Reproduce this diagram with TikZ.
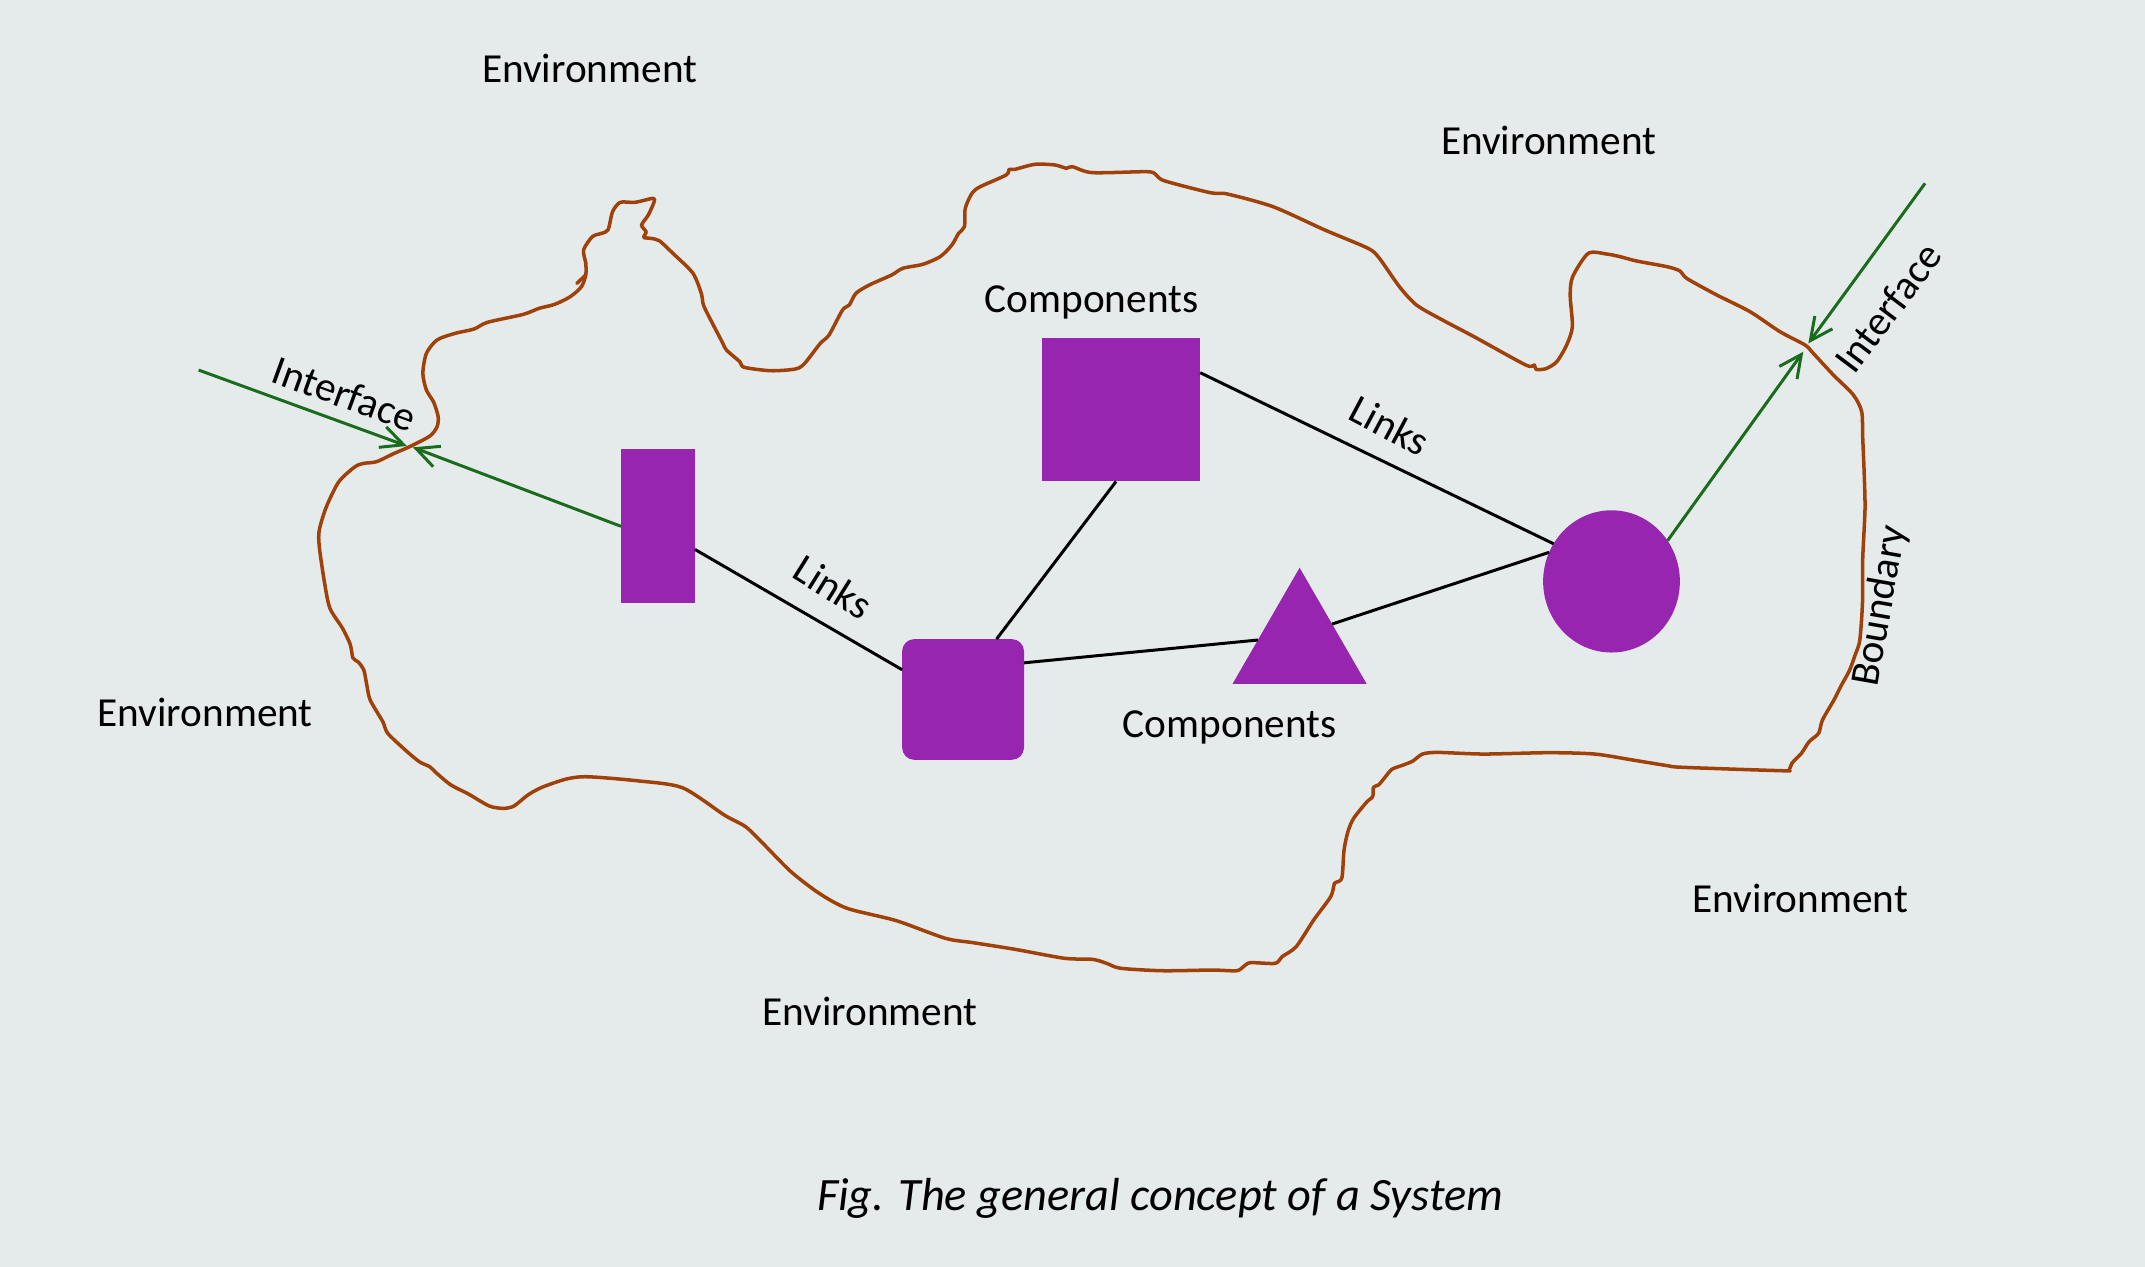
\documentclass[tikz,border=0pt]{standalone}
\usepackage{fontspec}
\setmainfont{Carlito}
\usetikzlibrary{arrows.meta,shapes.geometric}
\definecolor{bgc}{RGB}{228,235,234}
\definecolor{compc}{RGB}{152,37,176}
\definecolor{brownc}{RGB}{160,65,10}
\definecolor{greenc}{RGB}{26,108,28}
\begin{document}
\begin{tikzpicture}[x=0.01368cm,y=-0.01368cm,
  comp/.style={fill=compc, draw=none, inner sep=0pt, outer sep=0pt},
  link/.style={draw=black, line width=0.85pt},
  iface/.style={draw=greenc, line width=0.85pt, -{Straight Barb[length=6.4pt,width=6.2pt]}},
  lbl/.style={font=\fontsize{11.75pt}{14pt}\selectfont, inner sep=0pt},
  bound/.style={draw=brownc, line width=1pt, line join=round, line cap=round}]
\fill[bgc] (0,0) rectangle (1568,926);
\useasboundingbox (0,0) rectangle (1568,926);

% boundary
\draw[bound] plot[smooth cycle, tension=0.45] coordinates {
(299.5,326.5) (314.3,318.7) (319.5,311.9) (320.3,304.6) (317,294) (311.7,285.1)
(309.1,272.9) (311.7,258.3) (319.5,248.5) (332.6,243.7) (346.5,240.5) (356.4,235.6)
(382.5,229.8) (394,225.4) (405.4,222.5) (416.8,216.9) (425,209.6) (428.2,201)
(428.2,192.5) (426.6,182.7) (433,173) (439.6,170.6) (444.5,168) (447.8,154.7)
(453.4,147.9) (464.2,147.9) (477.2,145) (478.2,147.4) (473.9,157.2) (469,164.5)
(472.3,169.4) (470.6,173.5) (475.5,174.2) (482,176) (491.9,185.2) (506.6,199.8)
(513,215.6) (514.7,224.2) (527.8,249.8) (531,255.8) (540.8,264.4) (544,268.5)
(563.6,271) (581.6,269.7) (588.2,265.6) (599.6,251) (606,244.9) (615.9,226.6)
(620.8,223) (625.7,214.4) (635.5,208.3) (651.8,201) (660,196.1) (674.6,193.2)
(687.3,187.6) (695.8,179.1) (700.7,170.6) (705,165.7) (705.6,152.3) (710.5,141.3)
(716.5,136.5) (735.5,127.9) (737.6,123.8) (741.8,123.8) (756.5,120.1) (771.2,120.6)
(779.6,123) (783.8,121.8) (798.5,126.2) (838.3,125.5) (844.7,127.4) (851,132.1)
(884.5,140.8) (897.1,141.8) (930.6,151.1) (968.4,168.1) (1000,181.5) (1008.3,188.8)
(1023,209.6) (1035.5,223) (1054.4,233.9) (1077.5,246.1) (1115.3,266.8) (1121.6,266.8)
(1122.8,270) (1130,269.5) (1138,264.4) (1145.2,252.2) (1149.4,238.8) (1147.8,216)
(1149.6,202.3) (1161,185.2) (1174.5,185.7) (1184.2,187.6) (1196.4,190.8) (1218.4,194.9)
(1228.1,198.1) (1233,203.5) (1254.9,215.6) (1279.2,227.8) (1301.2,242.5) (1319.5,252.2)
(1325.5,258.3) (1340.2,274.1) (1354.8,288.7) (1360.9,301) (1361.6,319.2) (1362.8,348.4)
(1363.3,372.8) (1361.6,409.4) (1361.5,440) (1359.5,468) (1356,479) (1352,490)
(1346,501) (1340.6,511.7) (1332.2,526.3) (1329.4,536) (1322.4,542.2) (1316.8,550.7)
(1309.8,558) (1307.8,562.9) (1302.8,563.4) (1230.1,560.9) (1218.9,559.7) (1193.7,555.6)
(1165.7,551.2) (1132.2,550.2) (1084.6,551.2) (1051,550) (1039.8,551.2) (1032.8,556.3)
(1025.8,559.2) (1017.4,562.4) (1011.8,569) (1007.7,573.8) (1004,575.5) (1003.4,582.4)
(999.3,586) (989.5,598.2) (985.3,608) (982.5,621.3) (981.1,640.9) (978.3,644.5)
(975.5,645.7) (972.7,655.5) (960.3,672.5) (947.5,692) (937.2,699.3) (932.1,704.2)
(914.1,703.7) (909,706.6) (903.9,709.6) (886,709.1) (850.1,709.6) (819.2,707.8)
(809,704.2) (798.8,701.3) (778.2,700.5) (742.3,694) (711.5,689.1) (691.1,685.9)
(655.2,673) (619.3,664) (598.8,653) (578.2,637.2) (557.7,616.5) (545,604.3)
(529.5,595.8) (498.8,575.8) (465.4,570.7) (429.5,567.8) (414.2,569.4) (396.2,575.5)
(385.9,581.1) (375.7,589.2) (368,590.9) (357.7,589.2) (342.4,580.4) (329.6,573.8)
(319.3,565.3) (314.2,560.5) (306.5,556.8) (296.2,548.2) (283.4,536) (279.8,527.5)
(270.6,511.7) (268,500) (266,490) (262,484) (258,481) (256,471)
(250.4,459.3) (241.2,444.7) (237.3,426.4) (233.4,399.6) (233.4,387.4) (238.6,370.4)
(247.7,352.1) (259.5,341.2) (266,338.7) (275.2,337.5) (288.2,331.4)};
\draw[bound] (421.7,207.1) -- (428.2,201);

% components
\node[comp, rectangle, minimum width=0.739cm, minimum height=1.539cm] (r1) at (481,384.75) {};
\node[comp, rectangle, minimum width=1.583cm, minimum height=1.439cm] (sq) at (819.5,299.4) {};
\node[comp, rectangle, rounded corners=3.5pt, minimum width=1.220cm, minimum height=1.208cm] (rsq) at (704,511.3) {};
\node[comp, regular polygon, regular polygon sides=3, minimum size=1.549cm] (tri) at (950,471.6) {};
\node[comp, ellipse, minimum width=1.368cm, minimum height=1.423cm] (circ) at (1178,425) {};

% links
\draw[link] (r1.-32.6) -- (rsq.154.7);
\draw[link] (rsq.61.6) -- (sq.266.2);
\draw[link] (rsq.31.2) -- (tri.173);
\draw[link] (tri.33.6) -- (circ.155);
\draw[link] (sq.25.1) -- (circ.147.3);

% interfaces
\coordinate (ifLa) at (297.4,326);
\coordinate (ifLb) at (301.8,327);
\coordinate (outL) at (145.2,270.5);
\coordinate (ifRa) at (1321.9,251);
\coordinate (ifRb) at (1318.2,257.1);
\coordinate (outR) at (1407.2,134);
\draw[iface] (outL) -- (ifLa);
\draw[iface] (r1.west) -- (ifLb);
\draw[iface] (outR) -- (ifRa);
\draw[iface] (circ.36) -- (ifRb);

% labels
\node[lbl] (env1) at (431,50) {Environment};
\node[lbl] (env2) at (1132,103) {Environment};
\node[lbl] (env3) at (150,521) {Environment};
\node[lbl] (env4) at (1316,657) {Environment};
\node[lbl] (env5) at (636,739) {Environment};
\node[lbl] (comp1) at (798,221) {Components};
\node[lbl] (comp2) at (899,532) {Components};
\node[lbl, rotate=-28] (lk1) at (1016,311) {Links};
\node[lbl, rotate=-32] (lk2) at (609,429) {Links};
\node[lbl, rotate=-20] (ifl1) at (252,288) {Interface};
\node[lbl, rotate=53] (ifl2) at (1380,225) {Interface};
\node[lbl, rotate=80] (bnd) at (1375,443) {Boundary};
\node[inner sep=0pt, font=\fontsize{13.2pt}{16pt}\selectfont\itshape] (cap) at (848,876) {Fig. The general concept of a System};
\end{tikzpicture}
\end{document}
